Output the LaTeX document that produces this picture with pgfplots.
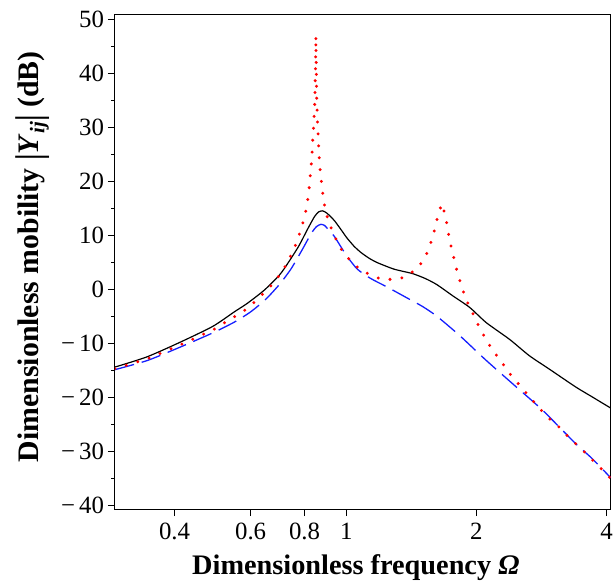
\documentclass[border=0pt]{standalone}
\usepackage{pgfplots}
\pgfplotsset{compat=1.18}
\usepackage{graphicx}
\usepackage{fontspec}
\setmainfont{Liberation Serif}
\newcommand{\tallbar}{\raisebox{-0.12em}{\scalebox{1}[1.25]{|}}}
\begin{document}
\begin{tikzpicture}
\begin{axis}[
  name=ax,
  xmode=log,
  scale only axis,
  width=499.3pt, height=498.4pt,
  xmin=0.291, xmax=4.09,
  ymin=-40.7, ymax=50.9,
  xtick={0.4,0.6,0.8,1,2,4},
  xticklabels={0.4,0.6,0.8,1,2,4},
  minor xtick={},
  ytick={-40,-30,-20,-10,0,10,20,30,40,50},
  yticklabels={−\,40,−\,30,−\,20,−\,10,0,10,20,30,40,50},
  minor ytick={-35,-25,-15,-5,5,15,25,35,45},
  tick align=outside,
  tick pos=left,
  major tick length=7pt,
  minor tick length=3.5pt,
  every tick/.style={black, line width=1pt},
  axis line style={line width=1.1pt},
  tick label style={font=\fontsize{25}{29}\selectfont},
  xticklabel style={anchor=base, yshift=-23.3pt},
  yticklabel style={anchor=east, xshift=-0.4pt},
  xlabel={\bfseries Dimensionless frequency \textit{Ω}},
  ylabel={\bfseries Dimensionless mobility \tallbar\textit{Y}\textsubscript{\textit{ij}}\tallbar\ (dB)},
  xlabel style={font=\fontsize{28.5}{32}\selectfont, at={(axis description cs:0.486,0)}, anchor=base, yshift=-65.5pt},
  ylabel style={font=\fontsize{30}{34}\selectfont, at={([xshift=-77pt]axis description cs:0,0.51)}, anchor=base},
  clip=true,
]
% black solid
\addplot[black, line width=1.2pt, smooth, tension=0.4] coordinates {
(0.291,-14.4) (0.300,-14.1) (0.346,-12.5) (0.41,-9.9) (0.49,-6.9) (0.55,-4.2) (0.59,-2.6) (0.647,-0.1) (0.706,3.0) (0.772,7.7) (0.814,11.2) (0.843,13.4) (0.862,14.3) (0.881,14.5) (0.90,14.1) (0.92,13.4) (0.94,12.6) (0.96,11.6) (0.98,10.6) (1.00,9.6) (1.04,8.0) (1.08,6.8) (1.13,5.7) (1.18,4.9) (1.29,3.7) (1.42,2.9) (1.52,2.0) (1.619,0.85) (1.768,-1.3) (1.931,-3.4) (2.108,-6.2) (2.387,-9.3) (2.650,-12.3) (2.950,-14.8) (3.395,-18.1) (3.70,-19.9) (4.09,-22.0)
};
% blue dashed
\addplot[color={rgb,255:red,20;green,30;blue,255}, line width=1.3pt, dash pattern=on 20pt off 8pt, smooth, tension=0.4] coordinates {
(0.291,-14.9) (0.346,-13.2) (0.41,-10.8) (0.49,-8.1) (0.55,-6.1) (0.60,-4.2) (0.65,-1.9) (0.70,0.9) (0.745,3.8) (0.79,7.3) (0.83,10.4) (0.853,11.6) (0.873,12.0) (0.89,11.8) (0.904,11.2) (0.937,9.8) (0.97,7.9) (1.005,6.0) (1.06,3.7) (1.137,2.0) (1.242,0.4) (1.38,-1.6) (1.50,-3.2) (1.619,-5.0) (1.83,-8.6) (2.108,-13.2) (2.473,-18.1) (2.845,-22.4) (3.395,-28.6) (3.70,-31.3) (4.09,-34.9)
};
% red dotted
\addplot[red, line width=3.3pt, line cap=round, dash pattern=on 0pt off 12pt] coordinates {
(0.291,-14.7) (0.346,-12.9) (0.4125,-10.3) (0.492,-7.5) (0.587,-3.7) (0.614,-2.3) (0.644,-0.7) (0.676,1.0) (0.703,2.8) (0.729,4.8) (0.752,7.0) (0.769,8.9) (0.785,11.1) (0.800,13.4) (0.811,15.7) (0.818,17.9) (0.823,20.2) (0.828,22.5) (0.832,24.7) (0.835,27.2) (0.838,29.3) (0.841,31.6) (0.844,33.9) (0.846,37.0) (0.848,41.0) (0.849,44.5) (0.850,46.9) (0.851,42.0) (0.853,35.7) (0.858,30.3) (0.866,23.3) (0.878,18.9) (0.885,16.6) (0.896,14.3) (0.912,12.2) (0.937,10.0) (0.962,7.9) (1.005,5.9) (1.05,4.3) (1.113,3.0) (1.178,2.1) (1.257,1.8) (1.345,2.1) (1.43,3.3) (1.49,4.8) (1.54,6.8) (1.576,9.1) (1.604,11.3) (1.627,13.5) (1.662,15.8) (1.692,13.9) (1.713,11.6) (1.731,9.2) (1.758,7.1) (1.784,4.8) (1.815,2.5) (1.853,0.25) (1.889,-1.8) (1.948,-3.9) (2.0,-6.0) (2.064,-8.1) (2.138,-10.2) (2.215,-12.0) (2.305,-13.9) (2.399,-15.8) (2.5,-17.5) (2.613,-19.3) (2.733,-21.1) (2.845,-22.7) (2.99,-24.4) (3.137,-25.8) (3.295,-27.7) (3.45,-29.1) (3.70,-31.5) (4.09,-35.0)
};
\end{axis}
\path ([shift={(-115.7pt,-72.3pt)}]ax.south west) rectangle ([shift={(1pt,14.3pt)}]ax.north east);
\end{tikzpicture}
\end{document}
